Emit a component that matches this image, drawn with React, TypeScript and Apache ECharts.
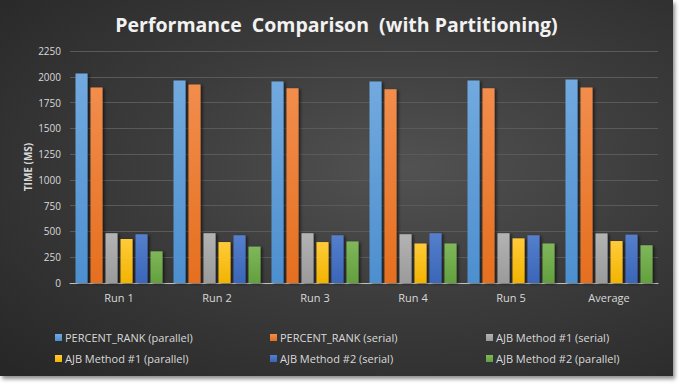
import React, { useEffect, useRef } from "react";
import * as echarts from "echarts";

const categories = ["Run 1", "Run 2", "Run 3", "Run 4", "Run 5", "Average"];
const seriesNames = [
  "PERCENT_RANK (parallel)",
  "PERCENT_RANK (serial)",
  "AJB Method #1 (serial)",
  "AJB Method #1 (parallel)",
  "AJB Method #2 (serial)",
  "AJB Method #2 (parallel)",
];
const percentRankParallel = [2032, 1964, 1955, 1955, 1964, 1974];
const percentRankSerial = [1897, 1926, 1888, 1878, 1888, 1895];
const ajb1Serial = [483, 483, 483, 473, 483, 481];
const ajb1Parallel = [427, 397, 397, 383, 433, 407];
const ajb2Serial = [473, 463, 463, 483, 463, 469];
const ajb2Parallel = [307, 353, 403, 383, 383, 366];
const seriesValues = [
  percentRankParallel,
  percentRankSerial,
  ajb1Serial,
  ajb1Parallel,
  ajb2Serial,
  ajb2Parallel,
];
const colorsTop = ["#72aadf", "#f28d4c", "#b3b3b3", "#ffcb3a", "#557fcc", "#7fb75a"];
const colorsBottom = ["#4d8fcf", "#e56f1f", "#9a9a9a", "#f2b400", "#3a66b8", "#63a03e"];
const legendColors = ["#5b9bd5", "#ed7d31", "#a5a5a5", "#ffc000", "#4472c4", "#70ad47"];
const yTicks = { min: 0, max: 2250, interval: 250 };
const title = "Performance  Comparison  (with Partitioning)";
const yName = "TIME (MS)";

export default function App() {
  const ref = useRef<HTMLDivElement>(null);
  useEffect(() => {
    if (!ref.current) return;
    const chart = echarts.init(ref.current, null, { renderer: "svg" });
    const font = "'Open Sans', 'DejaVu Sans', sans-serif";
    const legendCols = [
      { left: 55, items: [seriesNames[0], seriesNames[3]] },
      { left: 270, items: [seriesNames[1], seriesNames[4]] },
      { left: 486, items: [seriesNames[2], seriesNames[5]] },
    ];
    chart.setOption({
      animation: false,
      backgroundColor: "transparent",
      textStyle: { fontFamily: font },
      title: {
        text: title,
        left: "center",
        top: 9,
        textStyle: {
          color: "#f2f2f2",
          fontSize: 19.5,
          fontWeight: "bold",
          fontFamily: font,
        },
      },
      legend: legendCols.map((c) => ({
        data: c.items,
        orient: "vertical",
        left: c.left,
        top: 331,
        padding: 0,
        itemWidth: 7,
        itemHeight: 7,
        itemGap: 8,
        icon: "rect",
        textStyle: {
          color: "#d9d9d9",
          fontSize: 11,
          lineHeight: 13,
          fontFamily: font,
          padding: [0, 0, 0, -2],
        },
      })),
      grid: { left: 70, right: 15, top: 51, bottom: 93 },
      xAxis: {
        type: "category",
        data: categories,
        axisLine: { lineStyle: { color: "#bfbfbf", width: 1 } },
        axisTick: { show: false },
        axisLabel: { color: "#d9d9d9", fontSize: 11, margin: 9, fontFamily: font },
      },
      yAxis: {
        type: "value",
        min: yTicks.min,
        max: yTicks.max,
        interval: yTicks.interval,
        name: yName,
        nameLocation: "middle",
        nameRotate: 90,
        nameGap: 37,
        nameMoveOverlap: false,
        nameTextStyle: { color: "#d9d9d9", fontSize: 10, fontWeight: "bold", fontFamily: font },
        axisLine: { show: false },
        axisTick: { show: false },
        axisLabel: {
          color: "#d9d9d9",
          fontSize: 10,
          margin: 9,
          fontFamily: font,
          formatter: (v: number) => String(v),
        },
        splitLine: { lineStyle: { color: "#5a5a5a", width: 1 } },
      },
      series: seriesNames.map((name, i) => ({
        name,
        type: "bar",
        data: seriesValues[i],
        barWidth: 12,
        barGap: "25%",
        itemStyle: {
          color: new echarts.graphic.LinearGradient(0, 0, 0, 1, [
            { offset: 0, color: colorsTop[i] },
            { offset: 1, color: colorsBottom[i] },
          ]),
          shadowColor: "rgba(0,0,0,0.55)",
          shadowBlur: 3,
          shadowOffsetX: 2,
          shadowOffsetY: 1,
        },
      })),
      color: legendColors,
    });
    return () => chart.dispose();
  }, []);
  return (
    <div
      style={{
        position: "absolute",
        left: 0,
        top: 0,
        width: 679,
        height: 386,
        background: "#ffffff",
      }}
    >
      <div
        ref={ref}
        style={{
          width: 673,
          height: 376,
          background:
            "radial-gradient(ellipse at 60% 45%, #525252 0%, #3c3c3c 45%, #262626 100%)",
          boxShadow: "2px 3px 4px rgba(0,0,0,0.45)",
        }}
      />
    </div>
  );
}
